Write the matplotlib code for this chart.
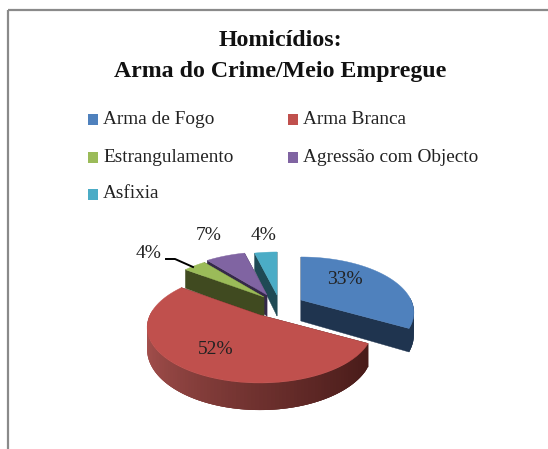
import numpy as np
import matplotlib
matplotlib.use("Agg")
import matplotlib.pyplot as plt
from matplotlib.patches import Polygon, Rectangle
from matplotlib.colors import to_rgb

# Data
categories = ["Arma de Fogo", "Arma Branca", "Estrangulamento", "Agressão com Objecto", "Asfixia"]
values = [33, 52, 4, 7, 4]
title = "Homicídios:\nArma do Crime/Meio Empregue"

# Style
top_colors = ["#4f81bd", "#c0504d", "#9bbb59", "#8064a2", "#4bacc6"]
cut_colors = ["#1f344f", "#4a1a18", "#404a20", "#35294a", "#1f4a55"]
apex_xy = [(301, 300), (260, 315), (264, 297), (267, 295), (277, 295)]
label_xy = [(345, 280), (216, 349), (149, 254), (209, 236), (264, 236)]
legend_xy = [(92, 119), (292, 119), (92, 157), (292, 157), (92, 194)]

RX, RY, K, DEPTH = 110, 52.7, 0.225, 21

fig = plt.figure(figsize=(5.48, 4.49), dpi=100)
ax = fig.add_axes([0, 0, 1, 1])
ax.set_xlim(0, 548)
ax.set_ylim(449, 0)
ax.axis("off")

ax.add_patch(Rectangle((7.5, 9.5), 600, 600, fill=False, ec="#8a8a8a", lw=1.6))


def project(apex, theta, r=1.0, lower=False):
    u, v = r * np.sin(theta), r * np.cos(theta)
    s = 1 / (1 + K * v)
    x = apex[0] + RX * u * s
    y = apex[1] - RY * v * s
    if lower:
        y += DEPTH * s
    return x, y


def lerp(a, b, t):
    ca, cb = to_rgb(a), to_rgb(b)
    return tuple((1 - t) * p + t * q for p, q in zip(ca, cb))


total = sum(values)
bounds = np.cumsum([0] + values) / total * 2 * np.pi
order = [4, 3, 2, 0, 1]
for i in order:
    a0, a1 = bounds[i], bounds[i + 1]
    apex = apex_xy[i]
    # cut faces
    for ang in (a1, a0):
        ax.add_patch(Polygon([project(apex, ang, 0), project(apex, ang),
                              project(apex, ang, lower=True), project(apex, ang, 0, lower=True)],
                             closed=True, fc=cut_colors[i], ec=cut_colors[i], lw=0.3))
    # outer wall: overlapping strips painted in order, so no seams show
    th = np.linspace(a0, a1, 120)
    for j in range(len(th) - 1):
        t0, t1 = th[j], th[min(j + 3, len(th) - 1)]
        mid = (th[j] + th[j + 1]) / 2
        if np.cos(mid) > 0.05:
            continue
        if i == 1:
            # red wall: lighter at left, darker at right
            f = (np.sin(mid) + 1) / 2
            c = lerp("#a8524f", "#431816", f ** 0.8)
        else:
            c = cut_colors[i]
        ax.add_patch(Polygon([project(apex, t0), project(apex, t1),
                              project(apex, t1, lower=True), project(apex, t0, lower=True)],
                             closed=True, fc=c, ec="none"))
    # top face
    th = np.linspace(a0, a1, 60)
    pts = [project(apex, 0, 0)] + [project(apex, t) for t in th]
    ax.add_patch(Polygon(pts, closed=True, fc=top_colors[i], ec=top_colors[i], lw=0.3))

serif = ["Liberation Serif", "DejaVu Serif"]
ax.text(280, 56, title, ha="center", va="center", family=serif, fontweight="bold",
        fontsize=17.2, linespacing=1.58, color="#111111")

for name, c, (x, y) in zip(categories, top_colors, legend_xy):
    ax.add_patch(Rectangle((x - 4.5, y - 5.5), 10, 11, fc=c, ec="none"))
    ax.text(x + 11, y, name, ha="left", va="center", family=serif, fontsize=13.9, color="#222222")

for v, (x, y) in zip(values, label_xy):
    ax.text(x, y, f"{v}%", ha="center", va="center", family=serif, fontsize=14, color="#222222")

ax.plot([166, 175, 193], [259, 259, 267], color="black", lw=1.4)

fig.savefig("out.png", dpi=100)
